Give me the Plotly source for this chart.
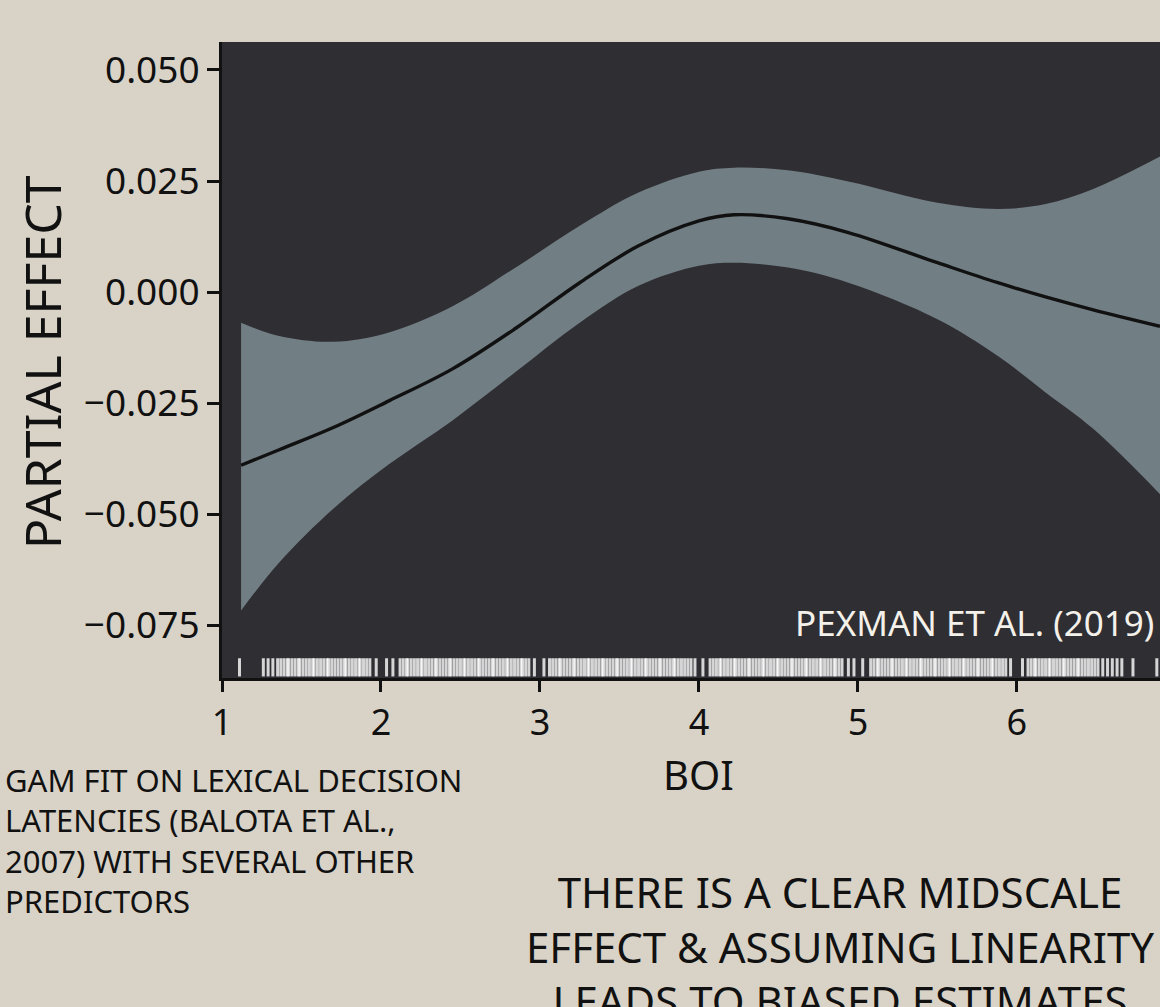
import plotly.graph_objects as go

# ---- data ----
boi_grid = [1.12, 1.36, 1.70, 2.05, 2.45, 2.85, 3.25, 3.62, 4.0, 4.22, 4.56, 4.94, 5.50, 5.88, 6.18, 6.48, 6.90]
fit = [-0.0390, -0.0355, -0.0305, -0.0245, -0.0173, -0.0081, 0.0021, 0.0104, 0.0160, 0.0174,
       0.0165, 0.0134, 0.0066, 0.0021, -0.0011, -0.0040, -0.0077]
upper = [-0.0069, -0.0099, -0.0112, -0.0091, -0.0032, 0.0056, 0.0149, 0.0224, 0.0271, 0.0280,
         0.0274, 0.0249, 0.0201, 0.0187, 0.0198, 0.0232, 0.0305]
lower = [-0.0717, -0.0609, -0.0488, -0.0388, -0.0289, -0.0179, -0.0069, 0.0014, 0.0059, 0.0066,
         0.0055, 0.0021, -0.0061, -0.0144, -0.0226, -0.0308, -0.0455]

rug_boi = [
    1.11, 1.26, 1.29, 1.32, 1.35, 1.37, 1.39, 1.41, 1.42, 1.44, 1.46, 1.48, 1.49, 1.51, 1.53, 1.55,
    1.57, 1.58, 1.60, 1.62, 1.64, 1.66, 1.67, 1.69, 1.71, 1.73, 1.75, 1.77, 1.78, 1.80, 1.82, 1.84,
    1.86, 1.87, 1.89, 1.91, 1.93, 1.97, 2.035, 2.075, 2.12, 2.14, 2.16, 2.17, 2.19, 2.21, 2.23, 2.25,
    2.26, 2.28, 2.30, 2.32, 2.34, 2.35, 2.37, 2.39, 2.41, 2.43, 2.44, 2.46, 2.48, 2.50, 2.52, 2.53,
    2.55, 2.57, 2.59, 2.61, 2.62, 2.64, 2.66, 2.68, 2.70, 2.71, 2.73, 2.75, 2.77, 2.79, 2.80, 2.82,
    2.84, 2.86, 2.88, 2.89, 2.91, 2.93, 2.965, 3.025, 3.06, 3.08, 3.10, 3.12, 3.13, 3.15, 3.17, 3.19,
    3.21, 3.22, 3.24, 3.26, 3.28, 3.30, 3.31, 3.33, 3.35, 3.37, 3.39, 3.40, 3.42, 3.44, 3.46, 3.48,
    3.49, 3.51, 3.53, 3.55, 3.57, 3.58, 3.60, 3.62, 3.64, 3.66, 3.67, 3.69, 3.71, 3.73, 3.75, 3.76,
    3.78, 3.80, 3.82, 3.84, 3.85, 3.87, 3.89, 3.91, 3.93, 3.95, 3.975, 4.025, 4.07, 4.09, 4.11, 4.13,
    4.14, 4.16, 4.18, 4.20, 4.22, 4.23, 4.25, 4.27, 4.29, 4.31, 4.32, 4.34, 4.36, 4.38, 4.40, 4.41,
    4.43, 4.45, 4.47, 4.49, 4.50, 4.52, 4.54, 4.56, 4.58, 4.59, 4.61, 4.63, 4.65, 4.67, 4.68, 4.70,
    4.72, 4.74, 4.76, 4.77, 4.79, 4.81, 4.83, 4.85, 4.86, 4.88, 4.90, 4.94, 4.975, 5.03, 5.08, 5.10,
    5.12, 5.13, 5.15, 5.17, 5.19, 5.21, 5.22, 5.24, 5.26, 5.28, 5.30, 5.31, 5.33, 5.35, 5.37, 5.39,
    5.40, 5.42, 5.44, 5.46, 5.48, 5.49, 5.51, 5.53, 5.55, 5.57, 5.58, 5.60, 5.62, 5.64, 5.66, 5.67,
    5.69, 5.71, 5.73, 5.75, 5.76, 5.78, 5.80, 5.82, 5.84, 5.85, 5.87, 5.89, 5.91, 5.93, 5.96, 6.035,
    6.07, 6.09, 6.11, 6.12, 6.14, 6.16, 6.18, 6.20, 6.21, 6.23, 6.25, 6.27, 6.29, 6.30, 6.32, 6.34,
    6.36, 6.38, 6.39, 6.41, 6.43, 6.45, 6.47, 6.49, 6.51, 6.54, 6.57, 6.60, 6.63, 6.66, 6.73, 6.88,
]

y_ticks = [-0.075, -0.050, -0.025, 0.000, 0.025, 0.050]
x_ticks = [1, 2, 3, 4, 5, 6]

x_label = "BOI"
y_label = "PARTIAL EFFECT"
source_note = "PEXMAN ET AL. (2019)"
caption_lines = ["GAM FIT ON LEXICAL DECISION", "LATENCIES (BALOTA ET AL.,",
                 "2007) WITH SEVERAL OTHER", "PREDICTORS"]
headline_lines = ["THERE IS A CLEAR MIDSCALE", "EFFECT &amp; ASSUMING LINEARITY",
                  "LEADS TO BIASED ESTIMATES"]

# ---- styling ----
PAPER = "#d9d3c7"
PLOT_BG = "#2f2e33"
BAND = "#717e84"
INK = "#111111"
FONT = "Noto Sans, Open Sans, DejaVu Sans, sans-serif"
W, H = 1160, 1007
ML, MT, MB = 222, 42, 329
PW, PH = W - ML, H - MT - MB
rug_y = -0.0845


def px_x(px):
    return (px - ML) / PW


def px_y(py):
    return (H - MB - py) / PH


fig = go.Figure()
fig.add_trace(go.Scatter(x=boi_grid, y=lower, mode="lines", line=dict(width=0, color=BAND, shape="spline"),
                         hoverinfo="skip", showlegend=False))
fig.add_trace(go.Scatter(x=boi_grid, y=upper, mode="lines", line=dict(width=0, color=BAND, shape="spline"),
                         fill="tonexty", fillcolor=BAND, hoverinfo="skip", showlegend=False))
fig.add_trace(go.Scatter(x=boi_grid, y=fit, mode="lines", line=dict(width=3.4, color=INK, shape="spline"),
                         hoverinfo="skip", showlegend=False))
fig.add_trace(go.Scatter(x=rug_boi, y=[rug_y] * len(rug_boi), mode="markers",
                         marker=dict(symbol="line-ns", size=13,
                                     line=dict(width=3, color="rgba(255,255,255,0.8)")),
                         hoverinfo="skip", showlegend=False))

annotations = [
    dict(text=source_note, xref="paper", yref="y", x=px_x(1156), y=-0.0743,
         xanchor="right", yanchor="middle", showarrow=False,
         font=dict(size=35, color="#f4f1ea", family=FONT)),
    dict(text=x_label, xref="x", yref="paper", x=4.0, y=px_y(774),
         xanchor="center", yanchor="middle", showarrow=False,
         font=dict(size=40, color=INK, family=FONT)),
    dict(text=y_label, xref="paper", yref="paper", x=px_x(42), y=px_y(362), textangle=-90,
         xanchor="center", yanchor="middle", showarrow=False,
         font=dict(size=50, color=INK, family=FONT)),
    dict(text="<br>".join(caption_lines), xref="paper", yref="paper", x=px_x(3), y=px_y(840),
         xanchor="left", yanchor="middle", align="left", showarrow=False,
         font=dict(size=31, color=INK, family=FONT)),
    dict(text="<br>".join(headline_lines), xref="paper", yref="paper", x=px_x(840), y=px_y(946),
         xanchor="center", yanchor="middle", align="center", showarrow=False,
         font=dict(size=42, color=INK, family=FONT)),
]

fig.update_layout(
    width=W, height=H,
    paper_bgcolor=PAPER, plot_bgcolor=PLOT_BG,
    margin=dict(l=ML, r=0, t=MT, b=MB, pad=0),
    font=dict(family=FONT, color=INK),
    showlegend=False,
    xaxis=dict(range=[1, 6.9], tickvals=x_ticks, ticktext=[str(v) for v in x_ticks],
               showgrid=False, zeroline=False, showline=True, linecolor=INK, linewidth=3,
               ticks="outside", ticklen=11, tickwidth=2.5, tickcolor=INK,
               tickfont=dict(size=36, family=FONT, color=INK)),
    yaxis=dict(range=[-0.0869, 0.0563], tickvals=y_ticks, tickformat=".3f",
               showgrid=False, zeroline=False, showline=True, linecolor=INK, linewidth=3,
               ticks="outside", ticklen=12, tickwidth=2.5, tickcolor=INK,
               tickfont=dict(size=37, family=FONT, color=INK)),
    annotations=annotations,
)

fig.write_html("out.html",
               config={"displayModeBar": False},
               post_script="document.body.style.margin='0';document.body.style.overflow='hidden';"
                           "document.body.style.background='" + PAPER + "';")
